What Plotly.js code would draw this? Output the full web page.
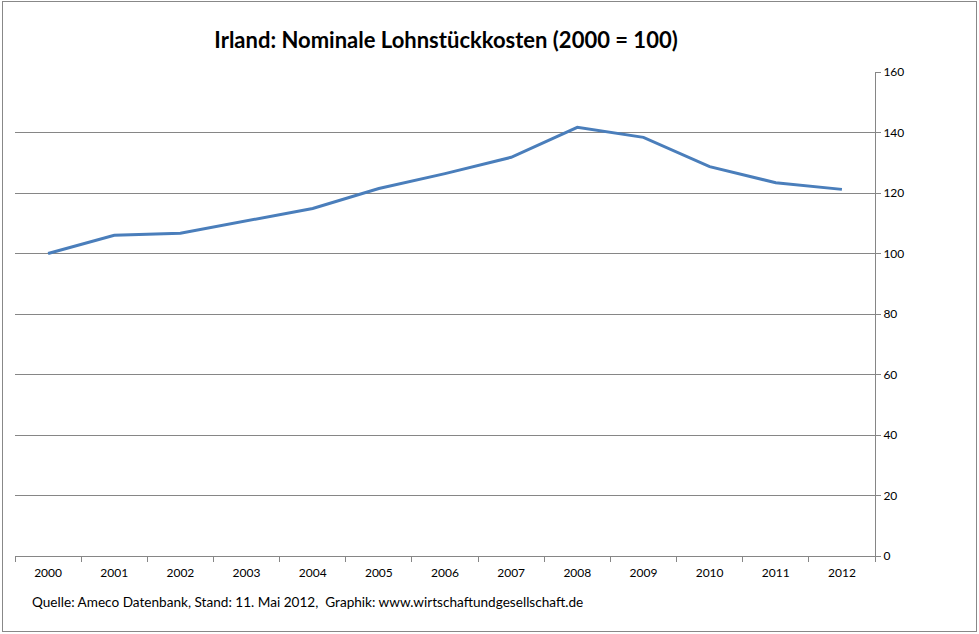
<!DOCTYPE html>
<html>
<head>
<meta charset="utf-8">
<script src="https://cdn.plot.ly/plotly-3.0.1.min.js"></script>
<style>
html,body{margin:0;padding:0;background:#fff;}
#wrap{position:relative;width:979px;height:634px;}
#chart{position:absolute;left:0;top:0;width:979px;height:634px;}
#frame{position:absolute;left:2px;top:1px;width:973px;height:629px;border:1px solid #888;pointer-events:none;}
</style>
</head>
<body>
<div id="wrap"><div id="chart"></div><div id="frame"></div></div>
<script>
const years = ['2000','2001','2002','2003','2004','2005','2006','2007','2008','2009','2010','2011','2012'];
const lohnstueckkosten = [100, 106.0, 106.7, 110.7, 114.9, 121.5, 126.4, 131.8, 141.7, 138.4, 128.7, 123.4, 121.2];
const yTicks = [0, 20, 40, 60, 80, 100, 120, 140, 160];

const fontFam = 'Lato, "Open Sans", "Liberation Sans", sans-serif';

const trace = {
  x: years,
  y: lohnstueckkosten,
  type: 'scatter',
  mode: 'lines',
  line: {color: '#4A7EBB', width: 3},
  hoverinfo: 'x+y'
};

const layout = {
  width: 979,
  height: 634,
  margin: {l: 15, r: 104, t: 72, b: 78},
  paper_bgcolor: '#fff',
  plot_bgcolor: '#fff',
  showlegend: false,
  title: {
    text: '<b>Irland: Nominale Lohnstückkosten (2000 = 100)</b>',
    font: {family: fontFam, size: 22, color: '#000'},
    x: 446/979, xanchor: 'center',
    y: 1 - 40/634, yanchor: 'middle'
  },
  xaxis: {
    type: 'category',
    range: [-0.5, years.length - 0.5],
    tickson: 'boundaries',
    ticks: 'outside',
    ticklen: 5,
    tickcolor: '#868686',
    ticklabelstandoff: 6,
    showline: true,
    linecolor: '#868686',
    linewidth: 1,
    showgrid: false,
    zeroline: false,
    tickfont: {family: fontFam, size: 12, color: '#000'},
    fixedrange: true
  },
  yaxis: {
    side: 'right',
    range: [0, 160],
    tickvals: yTicks,
    ticktext: yTicks.map(String),
    ticks: 'outside',
    ticklen: 5,
    tickcolor: '#868686',
    showline: true,
    linecolor: '#868686',
    linewidth: 1,
    showgrid: true,
    gridcolor: '#868686',
    gridwidth: 1,
    zeroline: false,
    tickfont: {family: fontFam, size: 12, color: '#000'},
    fixedrange: true
  },
  annotations: [{
    text: 'Quelle: Ameco Datenbank, Stand: 11. Mai 2012,  Graphik: www.wirtschaftundgesellschaft.de',
    xref: 'paper', yref: 'paper',
    x: (30 - 15) / 860, xanchor: 'left',
    y: (556 - 602) / 484, yanchor: 'middle',
    showarrow: false,
    font: {family: fontFam, size: 13.6, color: '#000'}
  }]
};

Plotly.newPlot('chart', [trace], layout, {displayModeBar: false, staticPlot: true});
</script>
</body>
</html>
